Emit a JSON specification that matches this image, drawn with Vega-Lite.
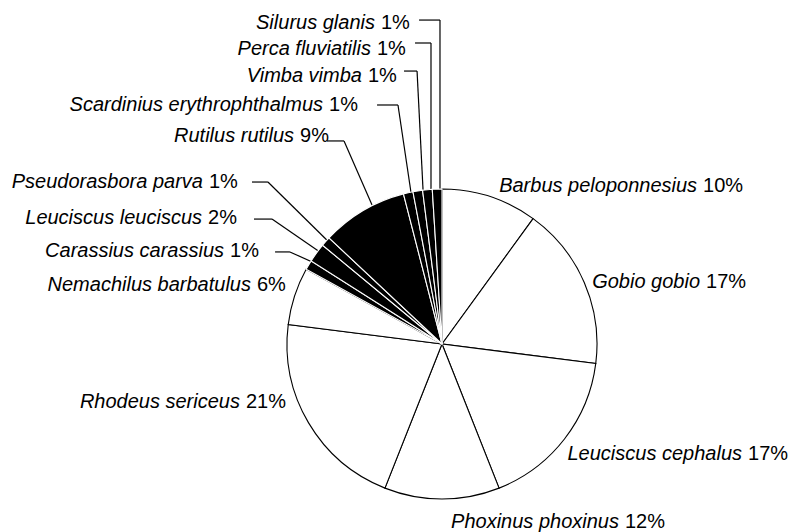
{
  "$schema": "https://vega.github.io/schema/vega-lite/v6.json",
  "width": 799,
  "height": 532,
  "padding": 0,
  "autosize": {"type": "none"},
  "background": "white",
  "config": {"view": {"stroke": null}, "font": "Liberation Sans"},
  "datasets": {
    "species": [
      {"rank": 1, "name": "Barbus peloponnesius", "share": 0.10, "group": "A"},
      {"rank": 2, "name": "Gobio gobio", "share": 0.17, "group": "A"},
      {"rank": 3, "name": "Leuciscus cephalus", "share": 0.17, "group": "A"},
      {"rank": 4, "name": "Phoxinus phoxinus", "share": 0.12, "group": "A"},
      {"rank": 5, "name": "Rhodeus sericeus", "share": 0.21, "group": "A"},
      {"rank": 6, "name": "Nemachilus barbatulus", "share": 0.06, "group": "A"},
      {"rank": 7, "name": "Carassius carassius", "share": 0.01, "group": "B"},
      {"rank": 8, "name": "Leuciscus leuciscus", "share": 0.02, "group": "B"},
      {"rank": 9, "name": "Pseudorasbora parva", "share": 0.01, "group": "B"},
      {"rank": 10, "name": "Rutilus rutilus", "share": 0.09, "group": "B"},
      {"rank": 11, "name": "Scardinius erythrophthalmus", "share": 0.01, "group": "B"},
      {"rank": 12, "name": "Vimba vimba", "share": 0.01, "group": "B"},
      {"rank": 13, "name": "Perca fluviatilis", "share": 0.01, "group": "B"},
      {"rank": 14, "name": "Silurus glanis", "share": 0.01, "group": "B"}
    ],
    "labels": [
      {"name": "Barbus peloponnesius", "lx": 166.5, "ly": 101.9},
      {"name": "Gobio gobio", "lx": 168.4, "ly": 40.3},
      {"name": "Leuciscus cephalus", "lx": 195.5, "ly": -71.0},
      {"name": "Phoxinus phoxinus", "lx": 116.1, "ly": -114.8},
      {"name": "Rhodeus sericeus", "lx": -128.4, "ly": -37.1},
      {"name": "Nemachilus barbatulus", "lx": -121.3, "ly": 38.1},
      {"name": "Carassius carassius", "lx": -138.7, "ly": 59.7},
      {"name": "Leuciscus leuciscus", "lx": -152.9, "ly": 81.3},
      {"name": "Pseudorasbora parva", "lx": -152.3, "ly": 104.8},
      {"name": "Rutilus rutilus", "lx": -93.5, "ly": 134.2},
      {"name": "Scardinius erythrophthalmus", "lx": -74.8, "ly": 154.2},
      {"name": "Vimba vimba", "lx": -49.7, "ly": 172.9},
      {"name": "Perca fluviatilis", "lx": -43.9, "ly": 190.3},
      {"name": "Silurus glanis", "lx": -41.3, "ly": 207.4}
    ],
    "leaders": [
      {"name": "Silurus glanis", "x": -14.8, "y": 209.0, "x2": -1.3, "y2": 209.0},
      {"name": "Silurus glanis", "x": -1.3, "y": 209.0, "x2": -1.3, "y2": 92.9},
      {"name": "Perca fluviatilis", "x": -17.4, "y": 194.2, "x2": -7.1, "y2": 194.2},
      {"name": "Perca fluviatilis", "x": -7.1, "y": 194.2, "x2": -7.1, "y2": 92.9},
      {"name": "Vimba vimba", "x": -24.5, "y": 176.1, "x2": -16.1, "y2": 176.1},
      {"name": "Vimba vimba", "x": -16.1, "y": 176.1, "x2": -11.9, "y2": 92.9},
      {"name": "Scardinius erythrophthalmus", "x": -41.9, "y": 154.2, "x2": -28.4, "y2": 154.2},
      {"name": "Scardinius erythrophthalmus", "x": -28.4, "y": 154.2, "x2": -18.8, "y2": 89.7},
      {"name": "Rutilus rutilus", "x": -74.2, "y": 131.0, "x2": -63.2, "y2": 131.0},
      {"name": "Rutilus rutilus", "x": -63.2, "y": 131.0, "x2": -38.1, "y2": 73.5},
      {"name": "Pseudorasbora parva", "x": -122.6, "y": 104.5, "x2": -112.3, "y2": 104.5},
      {"name": "Pseudorasbora parva", "x": -112.3, "y": 104.5, "x2": -65.8, "y2": 58.7},
      {"name": "Leuciscus leuciscus", "x": -121.3, "y": 80.6, "x2": -109.7, "y2": 80.6},
      {"name": "Leuciscus leuciscus", "x": -109.7, "y": 80.6, "x2": -70.3, "y2": 53.5},
      {"name": "Carassius carassius", "x": -107.7, "y": 59.4, "x2": -98.1, "y2": 59.4},
      {"name": "Carassius carassius", "x": -98.1, "y": 59.4, "x2": -72.3, "y2": 47.7}
    ]
  },
  "layer": [
    {
      "data": {"name": "leaders"},
      "mark": {"type": "rule", "stroke": "black", "strokeWidth": 1.2},
      "encoding": {
        "x": {"field": "x", "type": "quantitative", "scale": {"domain": [-285.16, 230.32], "nice": false, "zero": false}, "axis": null},
        "y": {"field": "y", "type": "quantitative", "scale": {"domain": [-121.29, 221.94], "nice": false, "zero": false}, "axis": null},
        "x2": {"field": "x2"},
        "y2": {"field": "y2"}
      }
    },
    {
      "data": {"name": "species"},
      "mark": {"type": "arc", "outerRadius": 155, "strokeWidth": 1.1},
      "encoding": {
        "theta": {"field": "share", "type": "quantitative", "stack": true},
        "order": {"field": "rank", "type": "quantitative"},
        "color": {"field": "group", "type": "nominal", "scale": {"domain": ["A", "B"], "range": ["white", "black"]}, "legend": null},
        "stroke": {"field": "group", "type": "nominal", "scale": {"domain": ["A", "B"], "range": ["black", "white"]}, "legend": null},
        "x": {"datum": 0, "type": "quantitative"},
        "y": {"datum": 0, "type": "quantitative"}
      }
    },
    {
      "data": {"name": "labels"},
      "mark": {"type": "text", "align": "right", "baseline": "middle", "dx": -3, "fontSize": 20, "fontStyle": "italic", "color": "black"},
      "encoding": {
        "x": {"field": "lx", "type": "quantitative"},
        "y": {"field": "ly", "type": "quantitative"},
        "text": {"field": "name", "type": "nominal"}
      }
    },
    {
      "data": {"name": "labels"},
      "transform": [
        {"lookup": "name", "from": {"data": {"name": "species"}, "key": "name", "fields": ["share"]}}
      ],
      "mark": {"type": "text", "align": "left", "baseline": "middle", "dx": 3, "fontSize": 20, "color": "black"},
      "encoding": {
        "x": {"field": "lx", "type": "quantitative"},
        "y": {"field": "ly", "type": "quantitative"},
        "text": {"field": "share", "type": "quantitative", "format": ".0%"}
      }
    }
  ]
}
